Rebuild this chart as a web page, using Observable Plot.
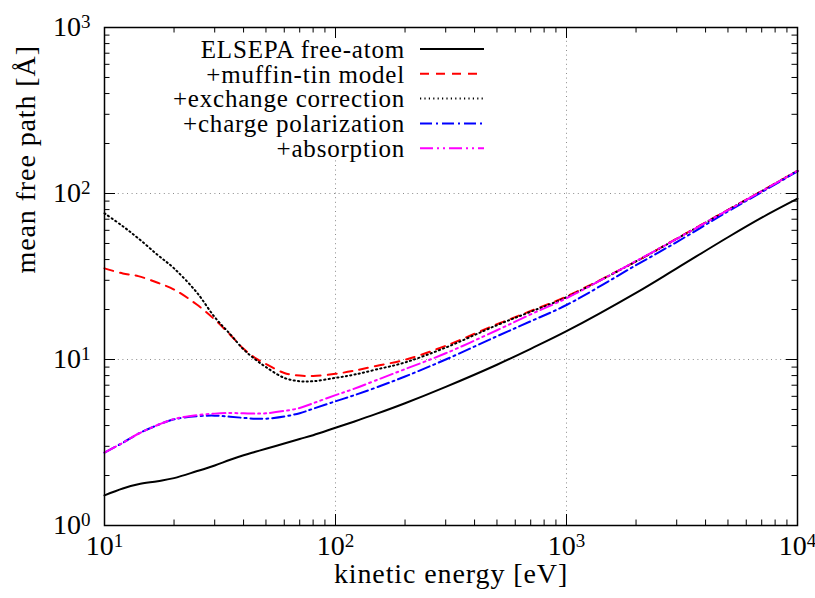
<!DOCTYPE html>
<html><head><meta charset="utf-8">
<script src="https://cdn.jsdelivr.net/npm/d3@7"></script>
<script src="https://cdn.jsdelivr.net/npm/@observablehq/plot@0.6"></script>
<style>body{margin:0;background:#fff}#chart{width:815px;height:598px}
svg text{font-family:'Liberation Serif','Times New Roman',serif;}</style>
</head><body><div id="chart"></div>
<script>
// ---- data ----
const energies     = [10, 12, 14, 17, 20, 25, 30, 35, 40, 45, 50, 60, 70, 80, 100, 120, 150, 200, 300, 500, 700, 1000, 2000, 3000, 5000, 7000, 10000];
const freeAtom     = [1.52, 1.67, 1.77, 1.85, 1.93, 2.12, 2.30, 2.49, 2.65, 2.78, 2.90, 3.12, 3.32, 3.50, 3.88, 4.22, 4.70, 5.45, 6.84, 9.3, 11.6, 14.8, 25.2, 35.4, 54.5, 71.5, 93];
const muffinTin    = [35.4, 33.0, 31.8, 29.0, 26.4, 21.5, 17.4, 14.1, 11.6, 10.2, 9.4, 8.3, 8.0, 7.95, 8.2, 8.55, 9.15, 9.95, 12.1, 16.3, 19.6, 24.0, 39.0, 53.5, 79.7, 103.5, 137];
const exchange     = [76, 63.5, 53.7, 42.6, 35.4, 25.5, 18.0, 14.2, 11.5, 10.0, 9.0, 7.75, 7.4, 7.4, 7.75, 8.1, 8.7, 9.6, 11.8, 16.1, 19.4, 23.7, 39.0, 53.3, 79.5, 103.3, 137];
const polarization = [2.75, 3.15, 3.57, 4.03, 4.36, 4.55, 4.59, 4.52, 4.45, 4.40, 4.40, 4.53, 4.75, 5.05, 5.6, 6.08, 6.78, 7.9, 10.0, 13.8, 17.0, 21.3, 37.0, 51, 78, 102, 136];
const absorption   = [2.75, 3.15, 3.57, 4.03, 4.38, 4.62, 4.72, 4.76, 4.74, 4.72, 4.74, 4.9, 5.1, 5.45, 6.1, 6.65, 7.5, 8.75, 10.9, 15.0, 18.7, 23.4, 39.2, 53.3, 79.5, 103.3, 137];
const seriesNames  = ["ELSEPA free-atom", "+muffin-tin model", "+exchange correction", "+charge polarization", "+absorption"];
const xMajor = [10, 100, 1000, 10000];
const yMajor = [1, 10, 100, 1000];
const xLabel = "kinetic energy [eV]";
const yLabel = "mean free path [Å]";

// ---- layout / styles ----
const W = 815, H = 598, mL = 104, mR = 18, mT = 27, mB = 73;
const fw = W - mL - mR, fh = H - mT - mB;
const FONT = "'Liberation Serif','Times New Roman',serif";
const minorOf = majors => majors.slice(0, -1).flatMap(m => [2,3,4,5,6,7,8,9].map(k => k * m));
const xMinor = minorOf(xMajor), yMinor = minorOf(yMajor);
const allSeries = [freeAtom, muffinTin, exchange, polarization, absorption];
const styles = [
  {stroke: "#000000", strokeWidth: 2},
  {stroke: "#ff0000", strokeWidth: 2, strokeDasharray: "9,7"},
  {stroke: "#000000", strokeWidth: 2, strokeDasharray: "1.2,3.2"},
  {stroke: "#0000ff", strokeWidth: 2, strokeDasharray: "12,4,2,4"},
  {stroke: "#ff00ff", strokeWidth: 2, strokeDasharray: "13,4,2,4,2,4"}
];
const rowsOf = vals => energies.map((e, i) => ({e, v: vals[i]}));
const expFmt = d => String(Math.round(Math.log10(d)));
const tickStyle = {stroke: "#000", strokeWidth: 1};

const svg = Plot.plot({
  width: W, height: H,
  marginLeft: mL, marginRight: mR, marginTop: mT, marginBottom: mB,
  style: {fontFamily: FONT, background: "#fff", color: "#000"},
  x: {type: "log", domain: [10, 10000]},
  y: {type: "log", domain: [1, 1000]},
  marks: [
    Plot.gridY([10, 100], {stroke: "#8c8c8c", strokeOpacity: 1, strokeWidth: 1, strokeDasharray: "1,3.6"}),
    Plot.gridX([100, 1000], {stroke: "#8c8c8c", strokeOpacity: 1, strokeWidth: 1, strokeDasharray: "1,3.6"}),
    ...allSeries.map((vals, i) => Plot.line(rowsOf(vals), {x: "e", y: "v", curve: "catmull-rom", ...styles[i]})),
    Plot.ruleX(xMajor, {insetTop: fh - 11, ...tickStyle}),
    Plot.ruleX(xMajor, {insetBottom: fh - 11, ...tickStyle}),
    Plot.ruleX(xMinor, {insetTop: fh - 5.5, ...tickStyle}),
    Plot.ruleX(xMinor, {insetBottom: fh - 5.5, ...tickStyle}),
    Plot.ruleY(yMajor, {insetRight: fw - 11, ...tickStyle}),
    Plot.ruleY(yMajor, {insetLeft: fw - 11, ...tickStyle}),
    Plot.ruleY(yMinor, {insetRight: fw - 5.5, ...tickStyle}),
    Plot.ruleY(yMinor, {insetLeft: fw - 5.5, ...tickStyle}),
    Plot.frame({stroke: "#000", strokeWidth: 1.5}),
    Plot.axisX(xMajor, {anchor: "bottom", tickSize: 0, tickPadding: 10, fontSize: 28, tickFormat: expFmt, label: null}),
    Plot.axisY(yMajor, {anchor: "left", tickSize: 0, tickPadding: 14, fontSize: 28, tickFormat: expFmt, label: null}),
    Plot.text([xLabel], {text: d => d, frameAnchor: "bottom", dy: 57, fontSize: 28, fill: "#000"}),
    Plot.text([yLabel], {text: d => d, frameAnchor: "left", dx: -78, dy: -3, rotate: -90, fontSize: 28, fill: "#000"})
  ]
});
document.getElementById("chart").appendChild(svg);

const s = d3.select(svg);
// axis titles: CM-like width
s.selectAll("text").filter(function () { return this.textContent === xLabel || this.textContent === yLabel; })
  .attr("letter-spacing", 0.9);

// powers of ten as superscripts
s.selectAll('g[aria-label="x-axis tick label"] text, g[aria-label="y-axis tick label"] text').each(function () {
  const t = d3.select(this);
  const e = t.text();
  t.text("");
  t.append("tspan").text("10");
  t.append("tspan").attr("dy", "-0.42em").attr("font-size", "0.68em").text(e);
});

// legend background (covers grid only)
const gridNode = s.select('g[aria-label="x-grid"]').node();
const bg = document.createElementNS("http://www.w3.org/2000/svg", "rect");
bg.setAttribute("x", 150); bg.setAttribute("y", 29);
bg.setAttribute("width", 345); bg.setAttribute("height", 128);
bg.setAttribute("fill", "#fff");
gridNode.parentNode.insertBefore(bg, gridNode.nextSibling);

// legend
const lg = s.append("g").attr("font-size", 25).attr("letter-spacing", 0.8);
seriesNames.forEach((name, i) => {
  const y = 49 + 24.8 * i;
  lg.append("text").attr("x", 405).attr("y", y).attr("dy", "0.35em").attr("text-anchor", "end").attr("fill", "#000").text(name);
  const st = styles[i];
  lg.append("line").attr("x1", 420).attr("x2", 484).attr("y1", y).attr("y2", y)
    .attr("stroke", st.stroke).attr("stroke-width", st.strokeWidth)
    .attr("stroke-dasharray", st.strokeDasharray || null);
});
</script>
</body></html>
